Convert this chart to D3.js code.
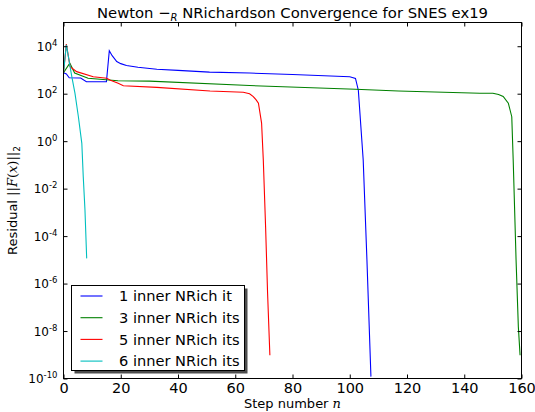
<!DOCTYPE html>
<html>
<head>
<meta charset="utf-8" />
<style>
body {
	margin: 0;
	background: white;
	font-family: "DejaVu Sans", sans-serif;
}
svg {
	display: block;
}
.frame {
	fill: none;
	stroke: black;
	stroke-width: 1;
}
.tick line {
	stroke: black;
}
.series {
	fill: none;
	stroke-width: 1.1;
}
.legend-text {
	font-size: 14.6px;
}
</style>
</head>
<body>
<script src="https://cdn.jsdelivr.net/npm/d3@7"></script>
<script>
// step numbers and residual norms
var steps1 = [0, 1, 2, 6, 8, 15, 16, 17, 18.6, 20, 22, 26, 32.6, 40, 51, 65, 80, 100, 102, 103, 104.7, 106, 107.4];
var resid1 = [7.6e2, 6.8e2, 4.7e2, 4.6e2, 3.2e2, 3.2e2, 6.5e3, 4.0e3, 2.25e3, 1.85e3, 1.55e3, 1.3e3, 1.07e3, 9.6e2, 8.1e2, 7.4e2, 6.4e2, 5.2e2, 4.4e2, 1.4e2, 1.6e-1, 1.0e-5, 1.2e-10];

var steps3 = [0, 2.2, 3.9, 8.6, 19, 30, 65, 102, 117, 145.5, 150, 152, 153.6, 155.4, 156.6, 157.1, 158.1, 158.9, 159.5];
var resid3 = [7.6e2, 1.95e3, 7.4e2, 4.5e2, 3.5e2, 3.4e2, 2.2e2, 1.55e2, 1.3e2, 1.05e2, 1.05e2, 9.3e1, 7.6e1, 4.0e1, 1.07e1, 1.6e-1, 1.0e-5, 1.5e-8, 9.5e-10];

var steps5 = [0, 1, 2.3, 4.6, 10.4, 15.1, 16.2, 19.1, 20.9, 32.6, 51.2, 62.8, 65, 66.3, 67.3, 68.1, 69.2, 69.8, 70.6, 71.3, 72.1];
var resid5 = [7.6e2, 1.23e4, 1.38e3, 8.5e2, 5.2e2, 4.5e2, 3.8e2, 2.75e2, 2.15e2, 1.85e2, 1.3e2, 1.15e2, 1.0e2, 7.6e1, 5.5e1, 4.0e1, 5.8e0, 1.6e-1, 2.5e-4, 3.8e-7, 9.5e-10];

var steps6 = [0, 1, 2.9, 4.0, 5.2, 6.4, 6.9, 7.5, 8.1];
var resid6 = [7.6e2, 1.15e4, 5.2e2, 1.05e2, 1.07e1, 8.1e-1, 3.2e-2, 1.26e-3, 1.15e-5];

var seriesNames = ["1 inner NRich it", "3 inner NRich its", "5 inner NRich its", "6 inner NRich its"];
var seriesColors = ["#0000ff", "#008000", "#ff0000", "#00bfbf"];

var xTicks = [0, 20, 40, 60, 80, 100, 120, 140, 160];
var yTickExps = [4, 2, 0, -2, -4, -6, -8, -10];

var width = 535,
    height = 412,
    plotL = 63.5,
    plotR = 521.5,
    plotT = 22.5,
    plotB = 378.5;

var x = d3.scaleLinear().domain([0, 160]).range([plotL, plotR]);
var y = d3.scaleLog().domain([1e-10, 1e5]).range([plotB, plotT]);

var svg = d3.select("body").append("svg")
	.attr("width", width)
	.attr("height", height);

var series = [
	{ steps: steps1, resid: resid1 },
	{ steps: steps3, resid: resid3 },
	{ steps: steps5, resid: resid5 },
	{ steps: steps6, resid: resid6 }
];

var line = d3.line()
	.x(function(d) { return x(d[0]); })
	.y(function(d) { return y(d[1]); });

svg.append("g")
	.selectAll("path")
	.data(series)
	.enter().append("path")
		.attr("class", "series")
		.attr("stroke", function(d, i) { return seriesColors[i]; })
		.attr("d", function(d) {
			return line(d.steps.map(function(s, j) { return [s, d.resid[j]]; }));
		});

// ticks point inward on all four sides
var yTickVals = yTickExps.map(function(e) { return Math.pow(10, e); });

svg.append("g")
	.attr("transform", "translate(0," + plotB + ")")
	.style("font-size", "14.5px")
	.style("font-family", "DejaVu Sans")
	.call(d3.axisBottom(x).tickValues(xTicks).tickSize(-4).tickPadding(4))
	.call(function(g) { g.select(".domain").remove(); g.selectAll("text").attr("fill", "black"); });

svg.append("g")
	.attr("transform", "translate(0," + plotT + ")")
	.call(d3.axisTop(x).tickValues(xTicks).tickSize(-4).tickFormat(""))
	.call(function(g) { g.select(".domain").remove(); });

svg.append("g")
	.attr("transform", "translate(" + plotL + ",0)")
	.call(d3.axisLeft(y).tickValues(yTickVals).tickSize(-4).tickFormat(""))
	.call(function(g) { g.select(".domain").remove(); });

svg.append("g")
	.attr("transform", "translate(" + plotR + ",0)")
	.call(d3.axisRight(y).tickValues(yTickVals).tickSize(-4).tickFormat(""))
	.call(function(g) { g.select(".domain").remove(); });

var yLab = svg.append("g")
	.selectAll("text")
	.data(yTickExps)
	.enter().append("text")
		.attr("x", 57.5)
		.attr("y", function(d) { return y(Math.pow(10, d)) + 4.5; })
		.attr("text-anchor", "end")
		.style("font-size", "12px");
yLab.append("tspan").text("10");
yLab.append("tspan")
	.attr("dy", -5)
	.style("font-size", "8.5px")
	.text(function(d) { return d < 0 ? "-" + (-d) : d; });

svg.append("rect")
	.attr("class", "frame")
	.attr("x", plotL)
	.attr("y", plotT)
	.attr("width", plotR - plotL)
	.attr("height", plotB - plotT);

// title
var title = svg.append("text")
	.attr("x", (plotL + plotR) / 2)
	.attr("y", 18)
	.attr("text-anchor", "middle")
	.style("font-size", "14.8px");
title.append("tspan").text("Newton \u2212");
title.append("tspan").attr("dy", 3).style("font-size", "10px").style("font-style", "italic").text("R");
title.append("tspan").attr("dy", -3).text(" NRichardson Convergence for SNES ex19");

// axis labels
var xl = svg.append("text")
	.attr("x", (plotL + plotR) / 2)
	.attr("y", 407.5)
	.attr("text-anchor", "middle")
	.style("font-size", "13px");
xl.append("tspan").text("Step number ");
xl.append("tspan").style("font-style", "italic").style("font-family", "DejaVu Serif").text("n");

var yl = svg.append("text")
	.attr("transform", "translate(17," + ((plotT + plotB) / 2) + ") rotate(-90)")
	.attr("text-anchor", "middle")
	.style("font-size", "13px");
yl.append("tspan").text("Residual ");
yl.append("tspan").style("font-family", "DejaVu Serif").text("||");
yl.append("tspan").style("font-family", "DejaVu Serif").style("font-style", "italic").text("F");
yl.append("tspan").style("font-family", "DejaVu Serif").text("(");
yl.append("tspan").style("font-family", "DejaVu Serif").style("font-style", "italic").text("x");
yl.append("tspan").style("font-family", "DejaVu Serif").text(")||");
yl.append("tspan").attr("dy", 3).style("font-size", "9px").text("2");

// legend with drop shadow
var lg = svg.append("g").attr("transform", "translate(71.5,285.5)");
lg.append("rect")
	.attr("x", 3).attr("y", 3)
	.attr("width", 173).attr("height", 85)
	.attr("fill", "#4d4d4d");
lg.append("rect")
	.attr("width", 173).attr("height", 85)
	.attr("fill", "white")
	.attr("stroke", "black");

var rows = lg.selectAll(".row")
	.data(seriesNames)
	.enter().append("g")
		.attr("transform", function(d, i) { return "translate(0," + (10.5 + i * 21.7) + ")"; });
rows.append("line")
	.attr("x1", 9).attr("x2", 31)
	.attr("stroke", function(d, i) { return seriesColors[i]; })
	.attr("stroke-width", 1.1);
rows.append("text")
	.attr("class", "legend-text")
	.attr("x", 47.5)
	.attr("y", 5.3)
	.text(function(d) { return d; });
</script>
</body>
</html>
